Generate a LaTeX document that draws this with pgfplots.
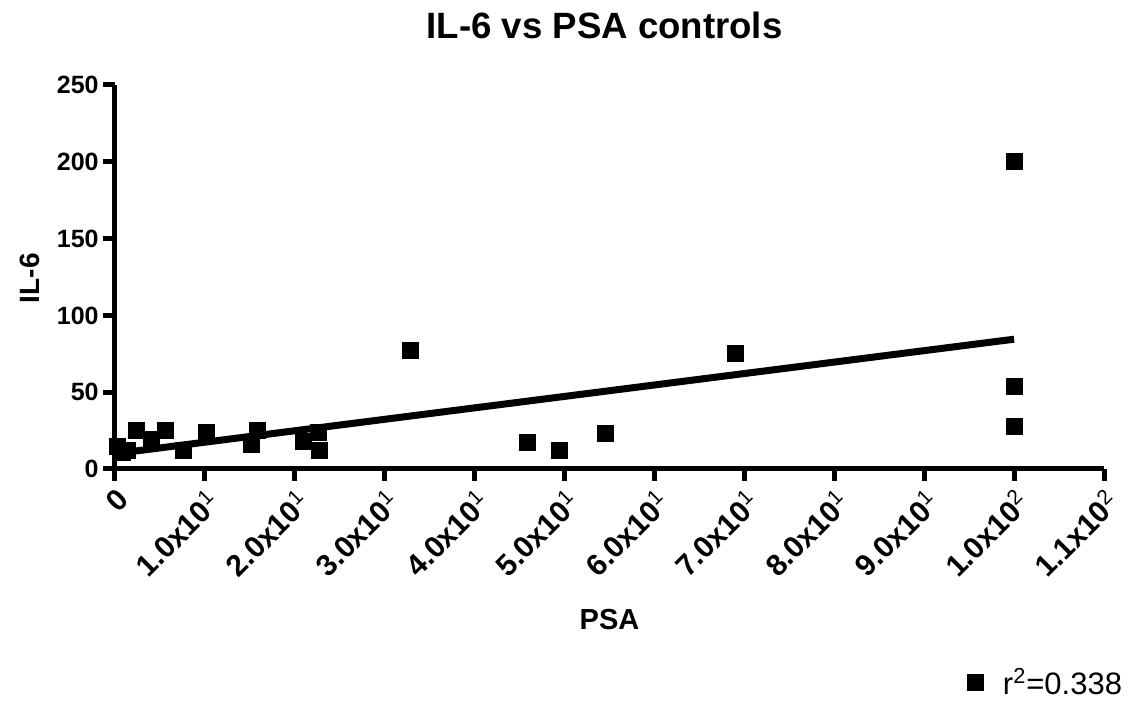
\documentclass[border=0pt]{standalone}
\usepackage{fontspec}
\setmainfont{Liberation Sans}
\usepackage{pgfplots}
\pgfplotsset{compat=1.18}
\begin{document}
\begin{tikzpicture}[x=1pt,y=1pt]
\path[use as bounding box] (0,0) rectangle (571,363.5);
\begin{axis}[
  at={(57.5pt,129pt)}, anchor=south west,
  scale only axis, width=494.5pt, height=192pt,
  xmin=0, xmax=110, ymin=0, ymax=250,
  clip=false,
  axis x line*=bottom, axis y line*=left,
  axis line style={line width=2.5pt, black},
  xtick={0,10,...,110},
  xticklabels={0,1.0x10\textsuperscript{\mdseries 1},2.0x10\textsuperscript{\mdseries 1},3.0x10\textsuperscript{\mdseries 1},4.0x10\textsuperscript{\mdseries 1},5.0x10\textsuperscript{\mdseries 1},6.0x10\textsuperscript{\mdseries 1},7.0x10\textsuperscript{\mdseries 1},8.0x10\textsuperscript{\mdseries 1},9.0x10\textsuperscript{\mdseries 1},1.0x10\textsuperscript{\mdseries 2},1.1x10\textsuperscript{\mdseries 2}},
  ytick={0,50,...,250},
  tick align=outside, major tick length=6pt,
  tick style={line width=2.5pt, black},
  x tick label style={rotate=45, anchor=north east, inner sep=2pt, font=\bfseries\fontsize{15}{15}\selectfont},
  y tick label style={font=\bfseries\fontsize{12.5}{12.5}\selectfont, inner sep=2pt},
  /pgf/number format/assume math mode=true,
  title={IL-6 vs PSA controls},
  title style={at={(axis description cs:0.495,1.125)}, anchor=center, font=\bfseries\fontsize{18.3}{18.3}\selectfont},
  xlabel={PSA},
  xlabel style={at={(axis description cs:0.5,-0.393)}, anchor=center, font=\bfseries\fontsize{14.5}{14.5}\selectfont},
  ylabel={IL-6},
  ylabel style={at={(axis description cs:-0.086,0.497)}, anchor=center, font=\bfseries\fontsize{14}{14}\selectfont},
  legend style={at={(axis description cs:0.855,-0.557)}, anchor=west, draw=none, fill=none, font=\fontsize{15.5}{15.5}\selectfont},
  legend cell align=left,
]
% IL-6 against PSA in the control group
\addplot[only marks, mark=square*, mark size=4pt, black] coordinates {
  (0.3,15) (0.8,11) (1.4,12) (2.4,25) (4.1,19) (5.6,25) (7.6,12)
  (10.2,24) (15.2,16) (15.8,25) (20.9,18) (22.6,24) (22.7,12)
  (32.8,77) (45.9,17) (49.4,12) (54.5,23) (69.0,75)
  (100,200) (100,54) (100,28)
};
\addlegendentry{\hspace*{8pt}r\textsuperscript{2}=0.338}
% linear regression fit
\addplot[forget plot, line width=3.5pt, black] coordinates {(0,10) (100,84.5)};
\end{axis}
\end{tikzpicture}
\end{document}
